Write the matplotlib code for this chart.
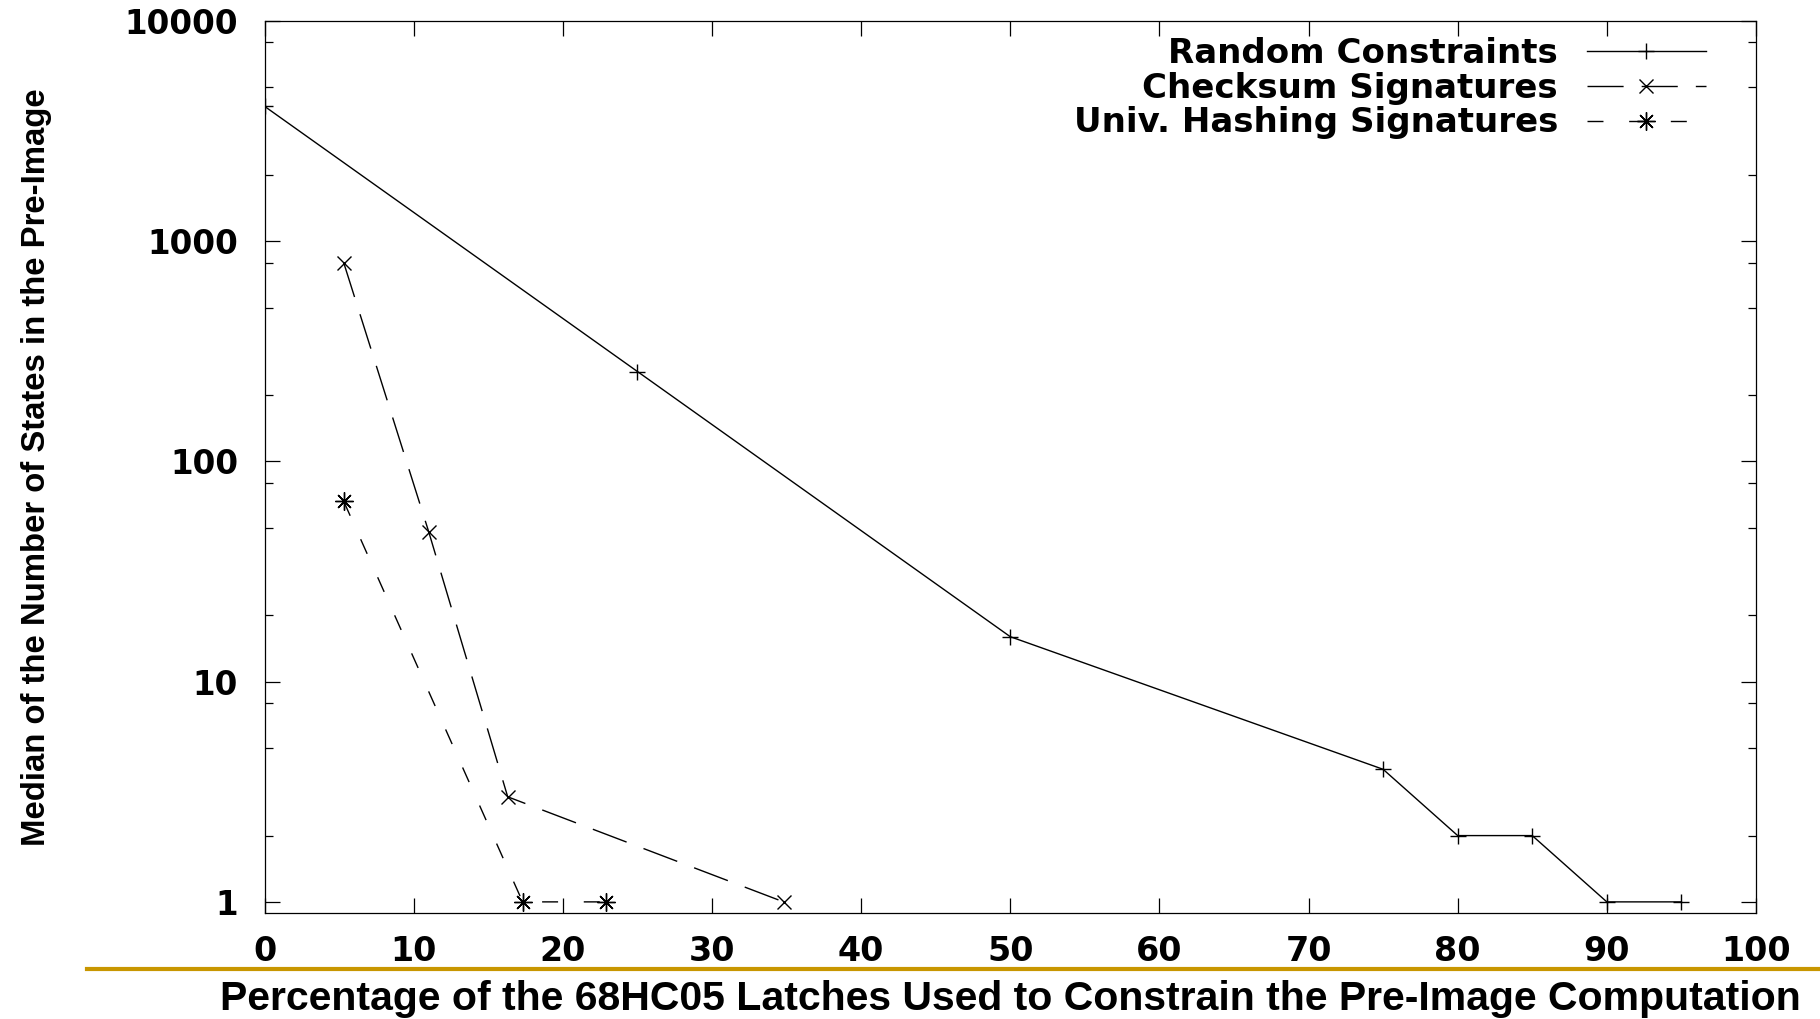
import numpy as np
import matplotlib
matplotlib.use("Agg")
import matplotlib.pyplot as plt
from matplotlib.lines import Line2D
from matplotlib.ticker import FixedLocator, LogLocator, NullFormatter

plt.rcParams['font.family'] = ['DejaVu Sans']

# data
random_x = [0, 25, 50, 75, 80, 85, 90, 95]
random_y = [4096, 256, 16, 4, 2, 2, 1, 1]

checksum_x = [5.3, 11.0, 16.3, 34.8]
checksum_y = [800, 48, 3, 1]

hashing_x = [5.3, 17.3, 22.9]
hashing_y = [66, 1, 1]

x_ticks = [0, 10, 20, 30, 40, 50, 60, 70, 80, 90, 100]
y_ticks = [1, 10, 100, 1000, 10000]
y_tick_labels = ['1', '10', '100', '1000', '10000']

fig = plt.figure(figsize=(18.2, 10.19), dpi=100)
ax = fig.add_axes([0.1454, 0.1040, 0.8194, 0.8754])

ax.plot(random_x, random_y, color='black', lw=1.0, marker='+', ms=11,
        mew=1.0, label='Random Constraints')
ax.plot(checksum_x, checksum_y, color='black', lw=1.0, marker='x', ms=10,
        mew=1.0, dashes=(26, 13), label='Checksum Signatures')
ax.plot(hashing_x, hashing_y, color='black', lw=1.0, marker=(8, 2, 0), ms=13,
        mew=1.0, dashes=(11.5, 18.5), label='Univ. Hashing Signatures')

ax.set_yscale('log')
ax.set_xlim(0, 100)
ax.set_ylim(0.89, 10000)

ax.xaxis.set_major_locator(FixedLocator(x_ticks))
ax.set_xticklabels([str(t) for t in x_ticks])
ax.yaxis.set_major_locator(FixedLocator(y_ticks))
ax.set_yticklabels(y_tick_labels)
ax.yaxis.set_minor_locator(LogLocator(base=10, subs=(2, 5, 8)))
ax.yaxis.set_minor_formatter(NullFormatter())

ax.tick_params(axis='both', which='both', direction='in', top=True, right=True,
               color='black')
ax.tick_params(axis='both', which='major', length=11, width=0.9)
ax.tick_params(axis='y', which='minor', length=5.5, width=0.9)
ax.tick_params(axis='y', which='major', pad=19, labelsize=23.5)
ax.tick_params(axis='x', which='major', pad=16, labelsize=24)
for lab in ax.get_xticklabels() + ax.get_yticklabels():
    lab.set_fontweight('bold')

for sp in ax.spines.values():
    sp.set_linewidth(0.9)
    sp.set_color('black')

leg = ax.legend(loc='upper right', bbox_to_anchor=(0.9665, 0.982), frameon=False,
                markerfirst=False, handlelength=3.5, handletextpad=0.85,
                labelspacing=0.05, borderpad=0, borderaxespad=0,
                prop={'size': 24.5, 'weight': 'bold'})
for t in leg.get_texts():
    t.set_ha('right')

# slide decoration: golden rule above the x label
fig.add_artist(Line2D([0.048, 1.0], [0.049, 0.049], color='#C89600', lw=3,
                      transform=fig.transFigure))

fig.text(0.555, 0.0088,
         'Percentage of the 68HC05 Latches Used to Constrain the Pre-Image Computation',
         ha='center', va='baseline', fontsize=29.5, fontweight='bold',
         family=['Liberation Sans', 'DejaVu Sans'])
fig.text(0.0198, 0.5417, 'Median of the Number of States in the Pre-Image',
         rotation=90, ha='center', va='center', fontsize=23.7, fontweight='bold',
         family=['Liberation Sans', 'DejaVu Sans'])

fig.savefig('out.png', dpi=100)
